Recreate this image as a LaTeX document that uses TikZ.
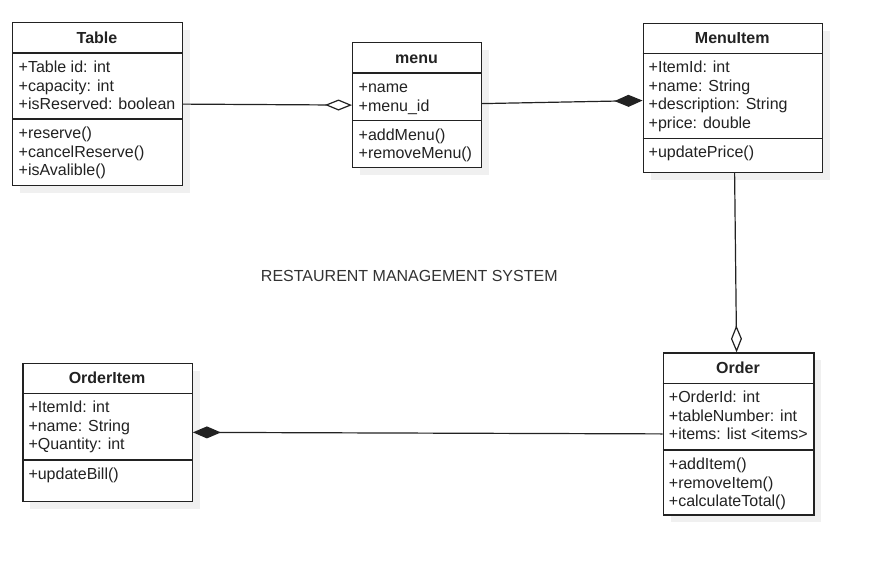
\documentclass[tikz,border=0pt]{standalone}
\usepackage{fontspec}
\setmainfont{Liberation Sans}
\usetikzlibrary{arrows.meta}
\definecolor{ink}{HTML}{222222}
\tikzset{
  umlbox/.style={draw=ink, line width=1.2pt, fill=white, anchor=north west, inner sep=0pt},
  shadowbox/.style={fill=black!6, draw=none},
  hdr/.style={font=\fontsize{16}{18.5}\selectfont\bfseries, text=ink, inner sep=0pt, text height=11.5pt, text depth=0pt},
  txt/.style={font=\fontsize{16}{18.5}\selectfont, text=ink, anchor=base west, inner sep=0pt},
  sepline/.style={draw=ink, line width=1.2pt},
  conn/.style={draw=ink, line width=1.2pt},
  agg/.style={-{Diamond[length=27pt,width=11pt,fill=white]}},
  comp/.style={-{Diamond[length=28pt,width=12pt,fill=ink]}},
  titletext/.style={font=\fontsize{16}{18.5}\selectfont, text=black!80, inner sep=0pt, text height=11.5pt, text depth=0pt},
}
\begin{document}
\begin{tikzpicture}[x=1pt,y=-1pt]
\fill[white] (0,0) rectangle (872,565);
\useasboundingbox (0,0) rectangle (872,565);

% ---------- Table ----------
\fill[shadowbox] (20,30) rectangle (190,193);
\node[umlbox, minimum width=170pt, minimum height=163pt] (table) at (12,22) {};
\draw[sepline] (12,53) -- (182,53);
\draw[sepline] (12,119) -- (182,119);
\node[hdr] (tableT) at (97,37.5) {Table};
\foreach \s [count=\i] in {+Table id: int, +capacity: int, +isReserved: boolean}
  \node[txt] (ta\i) at (18.5,{72.5+18.5*(\i-1)}) {\s};
\foreach \s [count=\i] in {+reserve(), +cancelReserve(), +isAvalible()}
  \node[txt] (tm\i) at (18.5,{138.5+18.5*(\i-1)}) {\s};

% ---------- menu ----------
\fill[shadowbox] (360,50) rectangle (489,175);
\node[umlbox, minimum width=129pt, minimum height=125pt] (menu) at (352,42) {};
\draw[sepline] (352,73) -- (481,73);
\draw[sepline] (352,120.5) -- (481,120.5);
\node[hdr] (menuT) at (416.5,57.5) {menu};
\foreach \s [count=\i] in {+name, +menu\_id}
  \node[txt] (ma\i) at (358.5,{92.5+18.5*(\i-1)}) {\s};
\foreach \s [count=\i] in {+addMenu(), +removeMenu()}
  \node[txt] (mm\i) at (358.5,{140+18.5*(\i-1)}) {\s};

% ---------- MenuItem ----------
\fill[shadowbox] (650.5,30.5) rectangle (830,180);
\node[umlbox, minimum width=179.5pt, minimum height=149.5pt] (menuitem) at (642.5,22.5) {};
\draw[sepline] (642.5,53.3) -- (822,53.3);
\draw[sepline] (642.5,138.5) -- (822,138.5);
\node[hdr] (menuitemT) at (732.25,38) {MenuItem};
\foreach \s [count=\i] in {+ItemId: int, +name: String, +description: String, +price: double}
  \node[txt] (ia\i) at (648.5,{72.8+18.5*(\i-1)}) {\s};
\node[txt] (im1) at (648.5,157.8) {+updatePrice()};

% ---------- OrderItem ----------
\fill[shadowbox] (30.3,370.5) rectangle (199.5,509);
\node[umlbox, minimum width=169.4pt, minimum height=138.5pt] (orderitem) at (22.3,362.5) {};
\draw[sepline] (22.3,393.3) -- (191.7,393.3);
\draw[sepline] (22.3,460) -- (191.7,460);
\node[hdr] (orderitemT) at (107,378) {OrderItem};
\foreach \s [count=\i] in {+ItemId: int, +name: String, +Quantity: int}
  \node[txt] (oa\i) at (28.3,{412.5+18.5*(\i-1)}) {\s};
\node[txt] (om1) at (28.3,479.5) {+updateBill()};

% ---------- Order ----------
\fill[shadowbox] (670.7,360.3) rectangle (821.3,522.3);
\node[umlbox, minimum width=150.6pt, minimum height=162pt] (order) at (662.7,352.3) {};
\draw[sepline] (662.7,383.3) -- (813.3,383.3);
\draw[sepline] (662.7,450) -- (813.3,450);
\node[hdr] (orderT) at (738,367.8) {Order};
\foreach \s [count=\i] in {+OrderId: int, +tableNumber: int, +items: list <items>}
  \node[txt] (ra\i) at (668.7,{402.8+18.5*(\i-1)}) {\s};
\foreach \s [count=\i] in {+addItem(), +removeItem(), +calculateTotal()}
  \node[txt] (rm\i) at (668.7,{469.5+18.5*(\i-1)}) {\s};

% ---------- title ----------
\node[titletext] (title) at (409.3,276.2) {RESTAURENT MANAGEMENT SYSTEM};

% ---------- connector end points on the box borders ----------
\coordinate (menuE) at ([yshift=1.5pt]menu.east);
\coordinate (menuitemW) at ([yshift=-2.7pt]menuitem.west);
\coordinate (menuitemS) at ([xshift=1.75pt]menuitem.south);
\coordinate (orderN) at ([xshift=-2pt]order.north);

% ---------- connectors ----------
\draw[conn, agg] (table.east) -- (menu.west);
\draw[conn, comp] (menuE) -- (menuitemW);
\draw[conn, agg] (menuitemS) -- (orderN);
\draw[conn, comp] (order.west) -- (orderitem.east);
\end{tikzpicture}
\end{document}
